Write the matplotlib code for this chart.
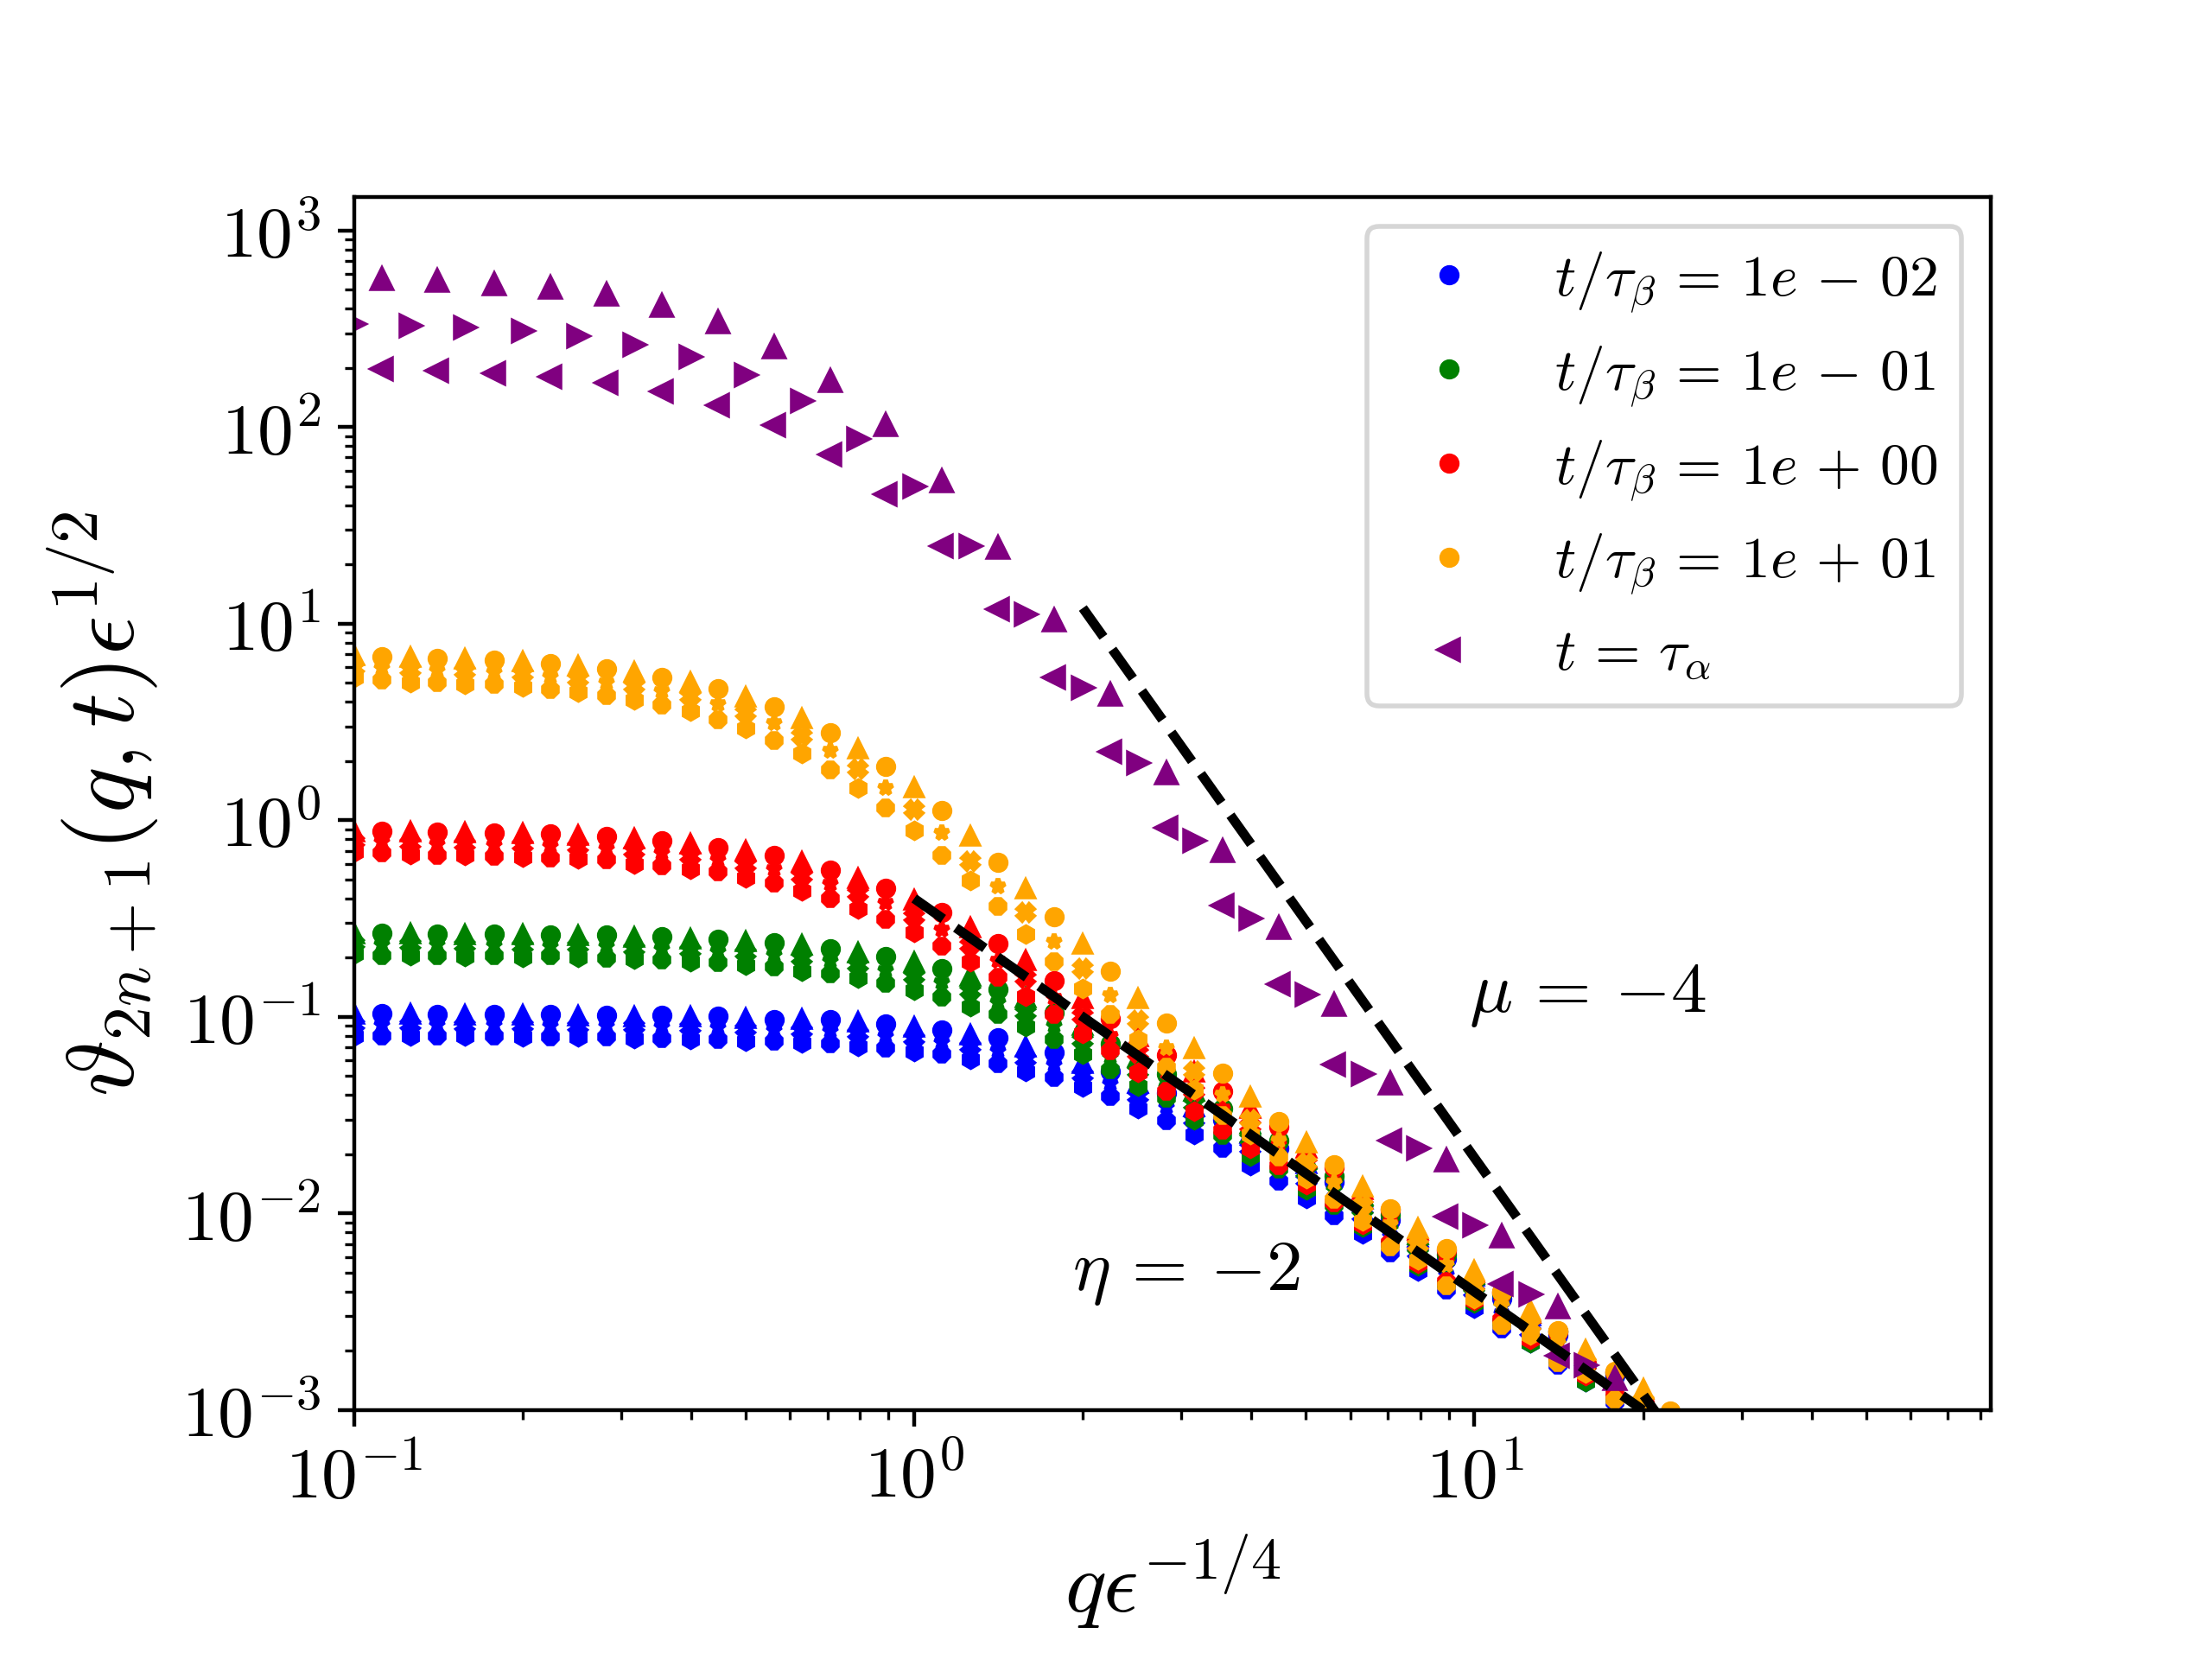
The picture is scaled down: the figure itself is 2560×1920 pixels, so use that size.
import numpy as np
import matplotlib
matplotlib.use("Agg")
import matplotlib.pyplot as plt
from matplotlib import ticker

plt.rcParams['mathtext.fontset'] = 'cm'
plt.rcParams['font.family'] = ['DejaVu Serif']

# q*eps^(-1/4) grids (two interleaved grids)
xA = [0.112, 0.141, 0.178, 0.224, 0.282, 0.355, 0.447, 0.562, 0.708, 0.891, 1.12, 1.41,
      1.78, 2.24, 2.82, 3.55, 4.47, 5.62, 7.08, 8.91, 11.2, 14.1, 17.8, 22.4]
xB = [0.100, 0.126, 0.158, 0.200, 0.251, 0.316, 0.398, 0.501, 0.631, 0.794, 1.00, 1.26,
      1.58, 2.00, 2.51, 3.16, 3.98, 5.01, 6.31, 7.94, 10.0, 12.6, 15.8, 20.0]

# t/tau_beta = 1e-02 (blue)
blue_o = [0.1035, 0.103, 0.103, 0.1025, 0.102, 0.1017, 0.1007, 0.097, 0.0964, 0.0919, 0.0857, 0.0782,
          0.066, 0.053, 0.041, 0.030, 0.0215, 0.0145, 0.0093, 0.0059, 0.0037, 0.0024, 0.0015, 0.00095]
blue_star = [0.0915, 0.091, 0.091, 0.0905, 0.090, 0.0893, 0.088, 0.0855, 0.0845, 0.080, 0.0745, 0.067,
             0.057, 0.046, 0.035, 0.0255, 0.0180, 0.0120, 0.0077, 0.0049, 0.0031, 0.0020, 0.0013, 0.00082]
blue_oct = [0.0802, 0.080, 0.080, 0.0795, 0.0790, 0.0773, 0.0765, 0.0751, 0.0732, 0.0694, 0.0645, 0.0578,
            0.0491, 0.0392, 0.0297, 0.0214, 0.0146, 0.0097, 0.0063, 0.0041, 0.0026, 0.0017, 0.0011, 0.0007]
blue_tri = [0.1028, 0.1028, 0.102, 0.1015, 0.101, 0.100, 0.100, 0.098, 0.0964, 0.094, 0.088, 0.081,
            0.070, 0.058, 0.046, 0.035, 0.0255, 0.0178, 0.0118, 0.0076, 0.0048, 0.0030, 0.0019, 0.0012]
blue_x = [0.0908, 0.091, 0.0905, 0.090, 0.0895, 0.089, 0.088, 0.0865, 0.085, 0.0825, 0.0772, 0.0705,
          0.061, 0.0505, 0.0395, 0.030, 0.0215, 0.0148, 0.0097, 0.0063, 0.0040, 0.0025, 0.0016, 0.0010]
blue_hex = [0.0802, 0.080, 0.080, 0.0795, 0.079, 0.0779, 0.0767, 0.0754, 0.0740, 0.0706, 0.0666, 0.0608,
            0.0528, 0.0438, 0.0343, 0.0253, 0.0176, 0.0119, 0.0079, 0.0051, 0.0033, 0.0022, 0.0014, 0.0009]

# t/tau_beta = 1e-01 (green)
green_o = [0.267, 0.265, 0.263, 0.260, 0.260, 0.256, 0.247, 0.238, 0.221, 0.202, 0.176, 0.138,
           0.105, 0.073, 0.051, 0.034, 0.0235, 0.0155, 0.0098, 0.0062, 0.0039, 0.0025, 0.00155, 0.00097]
green_star = [0.234, 0.234, 0.232, 0.230, 0.228, 0.223, 0.216, 0.207, 0.192, 0.173, 0.149, 0.119,
              0.090, 0.063, 0.044, 0.029, 0.020, 0.0132, 0.0084, 0.0054, 0.0034, 0.0022, 0.0014, 0.0009]
green_oct = [0.205, 0.205, 0.204, 0.204, 0.199, 0.194, 0.189, 0.179, 0.166, 0.148, 0.126, 0.1026,
             0.0769, 0.054, 0.0385, 0.0249, 0.0168, 0.0110, 0.0070, 0.0044, 0.0028, 0.0018, 0.00115, 0.00074]
green_tri = [0.265, 0.265, 0.262, 0.260, 0.258, 0.253, 0.249, 0.242, 0.231, 0.212, 0.188, 0.160,
             0.125, 0.090, 0.062, 0.042, 0.0285, 0.0190, 0.0123, 0.0078, 0.0049, 0.0031, 0.0019, 0.0012]
green_x = [0.235, 0.234, 0.231, 0.229, 0.228, 0.223, 0.218, 0.211, 0.199, 0.183, 0.161, 0.135,
           0.105, 0.076, 0.053, 0.036, 0.024, 0.0162, 0.0105, 0.0067, 0.0042, 0.0027, 0.0017, 0.0011]
green_hex = [0.209, 0.205, 0.203, 0.201, 0.200, 0.196, 0.191, 0.184, 0.171, 0.157, 0.137, 0.113,
             0.0895, 0.0645, 0.0444, 0.0301, 0.0195, 0.0132, 0.0085, 0.0054, 0.0035, 0.0022, 0.0014, 0.0009]

# t/tau_beta = 1e+00 (red)
red_o = [0.883, 0.873, 0.863, 0.851, 0.826, 0.783, 0.729, 0.659, 0.560, 0.452, 0.338, 0.236,
         0.153, 0.098, 0.064, 0.042, 0.0275, 0.0172, 0.0105, 0.0065, 0.0040, 0.0025, 0.00156, 0.00098]
red_star = [0.775, 0.759, 0.751, 0.742, 0.721, 0.680, 0.630, 0.562, 0.474, 0.378, 0.278, 0.193,
            0.125, 0.080, 0.052, 0.034, 0.0225, 0.0145, 0.0090, 0.0057, 0.0036, 0.0023, 0.00145, 0.00092]
red_oct = [0.681, 0.661, 0.656, 0.645, 0.628, 0.588, 0.544, 0.480, 0.400, 0.314, 0.229, 0.159,
           0.1026, 0.0673, 0.042, 0.0266, 0.0175, 0.0113, 0.0071, 0.0045, 0.0029, 0.00185, 0.0012, 0.00077]
red_tri = [0.873, 0.873, 0.863, 0.857, 0.839, 0.806, 0.755, 0.695, 0.612, 0.506, 0.390, 0.282,
           0.193, 0.123, 0.079, 0.052, 0.034, 0.0215, 0.0132, 0.0082, 0.0050, 0.0031, 0.00195, 0.00124]
red_x = [0.775, 0.763, 0.754, 0.745, 0.730, 0.695, 0.653, 0.595, 0.519, 0.423, 0.324, 0.232,
         0.158, 0.101, 0.065, 0.042, 0.028, 0.0178, 0.0110, 0.0069, 0.0043, 0.0027, 0.0017, 0.0011]
red_hex = [0.689, 0.668, 0.659, 0.647, 0.633, 0.601, 0.563, 0.509, 0.438, 0.352, 0.270, 0.191,
           0.127, 0.082, 0.0523, 0.0331, 0.0215, 0.0140, 0.0088, 0.0056, 0.0036, 0.0023, 0.0015, 0.00095]

# t/tau_beta = 1e+01 (orange)
orange_o = [6.79, 6.67, 6.53, 6.25, 5.90, 5.35, 4.65, 3.77, 2.79, 1.87, 1.12, 0.61,
            0.322, 0.170, 0.093, 0.0518, 0.0295, 0.0177, 0.0106, 0.0066, 0.0040, 0.00253, 0.00157, 0.00099]
orange_star = [5.93, 5.80, 5.65, 5.39, 5.03, 4.55, 3.90, 3.10, 2.25, 1.46, 0.86, 0.46,
               0.242, 0.128, 0.0695, 0.040, 0.0235, 0.0143, 0.0088, 0.0055, 0.0034, 0.0022, 0.00138, 0.00088]
orange_oct = [5.14, 5.01, 4.90, 4.63, 4.29, 3.87, 3.25, 2.55, 1.81, 1.15, 0.66, 0.363,
              0.191, 0.103, 0.0558, 0.0315, 0.0193, 0.0118, 0.0068, 0.0043, 0.0027, 0.00175, 0.00113, 0.00073]
orange_tri = [6.85, 6.73, 6.60, 6.41, 6.09, 5.67, 5.03, 4.24, 3.29, 2.30, 1.46, 0.83,
              0.445, 0.234, 0.124, 0.0689, 0.0389, 0.0228, 0.0136, 0.0084, 0.0051, 0.0032, 0.0020, 0.00127]
orange_x = [5.97, 5.82, 5.71, 5.53, 5.22, 4.82, 4.25, 3.51, 2.67, 1.83, 1.13, 0.62,
            0.339, 0.176, 0.096, 0.053, 0.030, 0.0180, 0.0110, 0.0069, 0.0043, 0.0027, 0.00175, 0.00112]
orange_hex = [5.30, 5.01, 4.93, 4.76, 4.47, 4.08, 3.59, 2.92, 2.19, 1.46, 0.885, 0.495,
              0.264, 0.139, 0.077, 0.0427, 0.0253, 0.0150, 0.0092, 0.0058, 0.0037, 0.0024, 0.00155, 0.0010]

# t = tau_alpha (purple)
purple_left = [198, 194, 188, 180, 168, 152, 129, 102, 72.4, 45.6, 24.8, 11.9,
               5.35, 2.23, 0.912, 0.367, 0.146, 0.057, 0.0236, 0.00967, 0.00438, 0.0019, 0.0008]
purple_right = [333, 328, 322, 307, 291, 262, 228, 184, 135, 87, 49.6, 24.7,
                11.1, 4.71, 1.95, 0.789, 0.318, 0.130, 0.0513, 0.0214, 0.00875, 0.00389, 0.0017, 0.00075]
purple_up = [566, 556, 533, 508, 469, 411, 339, 255, 172, 102, 53, 24.2,
             10.4, 4.33, 1.74, 0.70, 0.284, 0.1145, 0.0456, 0.0187, 0.00764, 0.00334, 0.00144, 0.00085]

labels = [r'$t/\tau_\beta \,=\, 1e \,-\, 02$', r'$t/\tau_\beta \,=\, 1e \,-\, 01$',
          r'$t/\tau_\beta \,=\, 1e \,+\, 00$', r'$t/\tau_\beta \,=\, 1e \,+\, 01$']
colors = ['blue', 'green', 'red', 'orange']
groups = [
    (blue_o, blue_tri, blue_star, blue_x, blue_oct, blue_hex),
    (green_o, green_tri, green_star, green_x, green_oct, green_hex),
    (red_o, red_tri, red_star, red_x, red_oct, red_hex),
    (orange_o, orange_tri, orange_star, orange_x, orange_oct, orange_hex),
]
markers = ['o', '^', '*', 'X', '8', 'h']
grids = [xA, xB, xA, xB, xA, xB]

# guide lines
eta_x = [1.0, 20.0]
eta_y = [0.4, 0.001]
mu_x = [2.0, 21.5]
mu_y = [12.0, 0.00090]

fig = plt.figure(figsize=(6.4, 4.8), dpi=400)
ax = fig.add_axes([0.160, 0.150, 0.740, 0.731])
ax.set_xscale('log')
ax.set_yscale('log')

ms = 3.2
for col, lab, grp in zip(colors, labels, groups):
    for i, (ys, m, xs) in enumerate(zip(grp, markers, grids)):
        ax.plot(xs[:len(ys)], ys, ls='none', marker=m, color=col, ms=ms,
                mew=1.0, label=lab if i == 0 else None)

pms = 3.8
ax.plot(xA[:len(purple_left)], purple_left, ls='none', marker='<', color='purple',
        ms=pms, mew=1.0, label=r'$t \,=\, \tau_\alpha$')
ax.plot(xB[:len(purple_right)], purple_right, ls='none', marker='>', color='purple', ms=pms, mew=1.0)
ax.plot(xA[:len(purple_up)], purple_up, ls='none', marker='^', color='purple', ms=pms, mew=1.0)

ax.plot(eta_x, eta_y, 'k--', lw=2)
ax.plot(mu_x, mu_y, 'k--', lw=2)

ax.text(15.9, 0.13, r'$\mu \,=\, {-}4$', fontsize=15, ha='center', va='center')
ax.text(3.06, 0.005, r'$\eta \,=\, {-}2$', fontsize=15, ha='center', va='center')

ax.set_xlim(0.1, 83.5)
ax.set_ylim(1e-3, 1470)

fmt = ticker.FuncFormatter(lambda v, p: r'$10^{%d}$' % int(round(np.log10(v))))
ax.xaxis.set_major_formatter(fmt)
ax.yaxis.set_major_formatter(fmt)
ax.xaxis.set_major_locator(ticker.LogLocator(base=10, numticks=20))
ax.yaxis.set_major_locator(ticker.LogLocator(base=10, numticks=20))
ax.xaxis.set_minor_locator(ticker.LogLocator(base=10, subs=np.arange(2, 10), numticks=50))
ax.yaxis.set_minor_locator(ticker.LogLocator(base=10, subs=np.arange(2, 10), numticks=50))
ax.xaxis.set_minor_formatter(ticker.NullFormatter())
ax.yaxis.set_minor_formatter(ticker.NullFormatter())
ax.tick_params(labelsize=15)

ax.set_xlabel(r'$q\epsilon^{-1/4}$', fontsize=18)
ax.set_ylabel(r'$\vartheta_{2n+1}(q,t)\epsilon^{1/2}$', fontsize=20)

ax.legend(loc='upper right', fontsize=12.2, labelspacing=0.5)

fig.savefig('out.png', dpi=400)
